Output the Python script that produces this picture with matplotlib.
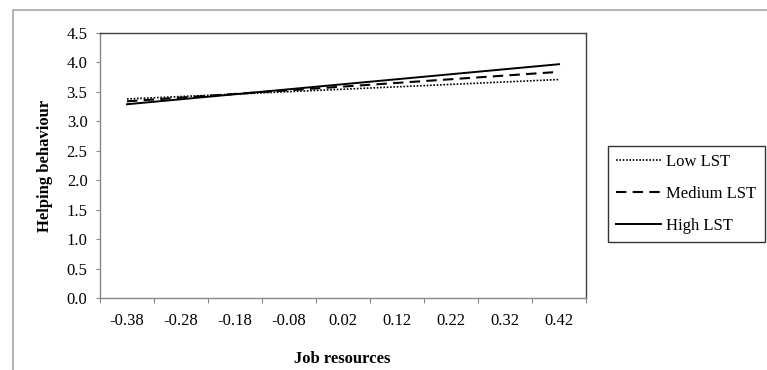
import matplotlib.pyplot as plt
from matplotlib.patches import Rectangle
import numpy as np

# data
categorias = ["-0.38", "-0.28", "-0.18", "-0.08", "0.02", "0.12", "0.22", "0.32", "0.42"]
x_extremos = [-0.38, 0.42]
low_lst = [3.38, 3.71]
medium_lst = [3.34, 3.84]
high_lst = [3.29, 3.97]
yticks = [0.0, 0.5, 1.0, 1.5, 2.0, 2.5, 3.0, 3.5, 4.0, 4.5]

plt.rcParams['font.family'] = ['Liberation Serif', 'DejaVu Serif']

W, H = 767, 370
fig = plt.figure(figsize=(W / 100, H / 100), dpi=100)

# gray outer chart border (Excel style)
fig.patches.append(Rectangle((13 / W, -0.05), 1.1, 1 - 10 / H + 0.05, transform=fig.transFigure,
                             fill=False, edgecolor='#a8a8a8', linewidth=1.2))

ax = fig.add_axes([100 / W, 1 - 298 / H, 486 / W, 265 / H])

ax.plot(x_extremos, low_lst, color='black', linestyle=(0, (1, 1)), linewidth=1.2, label='Low LST')
ax.plot(x_extremos, medium_lst, color='black', linestyle=(0, (5, 3)), linewidth=1.5, label='Medium LST')
ax.plot(x_extremos, high_lst, color='black', linestyle='-', linewidth=1.4, label='High LST')

# eje x de categorias: marcas en los bordes, etiquetas al centro
centros = np.array([float(c) for c in categorias])
bordes = np.append(centros - 0.05, centros[-1] + 0.05)
ax.set_xlim(bordes[0], bordes[-1])
ax.set_xticks(bordes)
ax.set_xticklabels([])
ax.set_xticks(centros, minor=True)
ax.set_xticklabels(categorias, minor=True)
ax.tick_params(axis='x', which='major', direction='out', length=3.5, color='#888888')
ax.tick_params(axis='x', which='minor', length=0, pad=11, labelsize=12)

ax.set_ylim(0, 4.5)
ax.set_yticks(yticks)
ax.set_yticklabels([f"{v:.1f}" for v in yticks])
ax.tick_params(axis='y', direction='out', length=3, color='#888888', pad=6, labelsize=12)

for s in ['left', 'bottom']:
    ax.spines[s].set_color('#888888')
    ax.spines[s].set_linewidth(1.0)
for s in ['top', 'right']:
    ax.spines[s].set_color('#404040')
    ax.spines[s].set_linewidth(1.0)

ax.set_ylabel('Helping behaviour', fontweight='bold', fontsize=12, labelpad=10)
fig.text(342 / W, 1 - 359 / H, 'Job resources', fontweight='bold', fontsize=12,
         ha='center', va='center')

leg = ax.legend(loc='upper left', bbox_to_anchor=(608 / W, 1 - 146 / H),
                bbox_transform=fig.transFigure, frameon=True, fancybox=False,
                edgecolor='black', fontsize=12, handlelength=2.7, labelspacing=0.95,
                handletextpad=0.3, borderpad=0.5, borderaxespad=0)
leg.get_frame().set_linewidth(1.0)

fig.savefig('out.png', dpi=100)
